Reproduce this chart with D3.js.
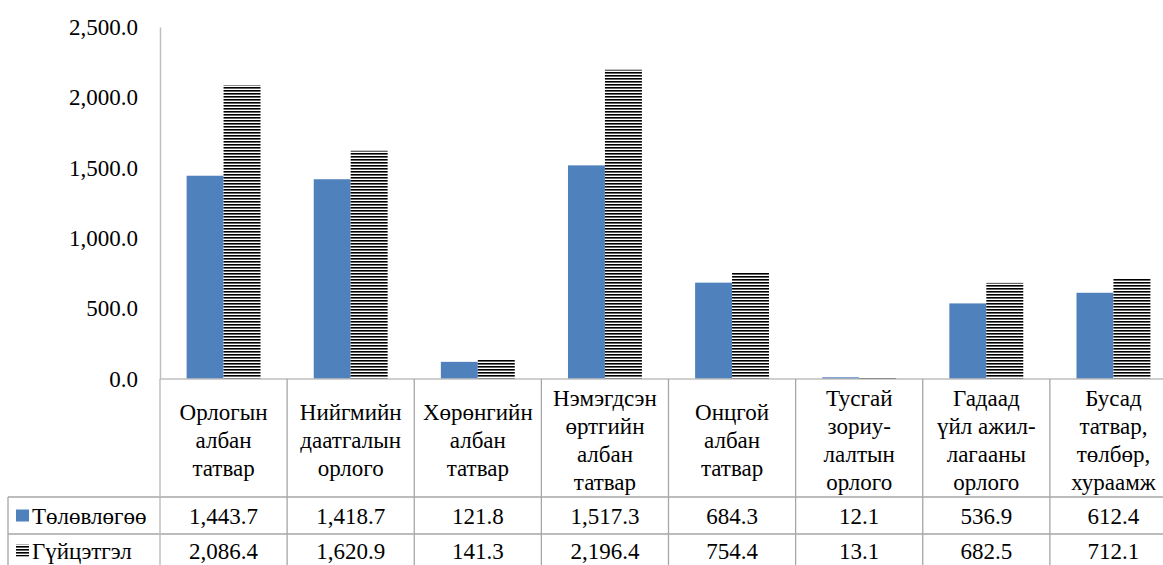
<!DOCTYPE html>
<html>
<head>
<meta charset="utf-8">
<script src="https://cdn.jsdelivr.net/npm/d3@7"></script>
<style>
  body { margin: 0; background: #fff; }
  svg text { font-family: "Liberation Serif", "Tinos", "DejaVu Serif", "Times New Roman", Times, serif; fill: #000; }
</style>
</head>
<body>
<div id="chart"></div>
<script>
// Categories (line breaks as in the picture)
const categories = [
    "Орлогын\nалбан\nтатвар",
    "Нийгмийн\nдаатгалын\nорлого",
    "Хөрөнгийн\nалбан\nтатвар",
    "Нэмэгдсэн\nөртгийн\nалбан\nтатвар",
    "Онцгой\nалбан\nтатвар",
    "Тусгай\nзориу-\nлалтын\nорлого",
    "Гадаад\nүйл ажил-\nлагааны\nорлого",
    "Бусад\nтатвар,\nтөлбөр,\nхураамж"
];
const seriesNames = ["Төлөвлөгөө", "Гүйцэтгэл"];
const planValues = [1443.7, 1418.7, 121.8, 1517.3, 684.3, 12.1, 536.9, 612.4];
const actualValues = [2086.4, 1620.9, 141.3, 2196.4, 754.4, 13.1, 682.5, 712.1];
const yTicks = [0, 500, 1000, 1500, 2000, 2500];

const width = 1163, height = 565;
const plotLeft = 160, plotRight = 1177, plotTop = 27, plotBottom = 379;
const headerBottom = 497, row1Bottom = 534, row2Bottom = 571, legendLeft = 8;
const blue = "#4f81bd", gridGray = "#a6a6a6";
const serif = '"Liberation Serif", "Tinos", "DejaVu Serif", "Times New Roman", Times, serif';

const svg = d3.select("#chart").append("svg")
    .attr("width", width)
    .attr("height", height)
    .attr("font-family", serif);

// Pattern for the "Гүйцэтгэл" series: horizontal black stripes
const defs = svg.append("defs");
const pat = defs.append("pattern")
    .attr("id", "stripes")
    .attr("patternUnits", "userSpaceOnUse")
    .attr("width", 8)
    .attr("height", 3);
pat.append("rect").attr("width", 8).attr("height", 3).attr("fill", "#fff");
pat.append("rect").attr("width", 8).attr("height", 1.6).attr("fill", "#000");

const x = d3.scaleBand()
    .domain(d3.range(categories.length))
    .range([plotLeft, plotRight])
    .padding(0);

const xs = d3.scaleBand()
    .domain([0, 1])
    .range([0, x.bandwidth()])
    .paddingInner(0)
    .paddingOuter(0.72);

const y = d3.scaleLinear()
    .domain([0, 2500])
    .range([plotBottom, plotTop]);

// Y axis
const yAxis = svg.append("g")
    .attr("transform", `translate(${plotLeft},0)`)
    .call(d3.axisLeft(y).tickValues(yTicks).tickFormat(d3.format(",.1f")).tickSize(0).tickPadding(22));
yAxis.attr("font-family", serif).attr("font-size", 23);
yAxis.select(".domain").attr("stroke", "#bfbfbf").attr("stroke-width", 1.5);
yAxis.selectAll("text").attr("fill", "#000");

// Bars
const seriesData = [planValues, actualValues];
const fills = [blue, "url(#stripes)"];
seriesData.forEach((vals, si) => {
    svg.append("g").selectAll("rect")
        .data(vals)
        .enter()
        .append("rect")
        .attr("x", (d, i) => x(i) + xs(si))
        .attr("width", xs.bandwidth())
        .attr("y", d => y(d))
        .attr("height", d => y(0) - y(d))
        .attr("fill", fills[si]);
});

// Data table lines
const grid = svg.append("g")
    .attr("stroke", gridGray)
    .attr("stroke-width", 1.3);

grid.append("line")
    .attr("x1", plotLeft).attr("x2", plotRight)
    .attr("y1", plotBottom).attr("y2", plotBottom)
    .attr("stroke", "#bfbfbf").attr("stroke-width", 1.5);

[headerBottom, row1Bottom, row2Bottom].forEach(yy => {
    grid.append("line")
        .attr("x1", legendLeft).attr("x2", plotRight)
        .attr("y1", yy).attr("y2", yy);
});
grid.append("line")
    .attr("x1", legendLeft).attr("x2", legendLeft)
    .attr("y1", headerBottom).attr("y2", row2Bottom);
d3.range(1, categories.length + 1).forEach(i => {
    const xx = i < categories.length ? x(i) : plotRight;
    grid.append("line")
        .attr("x1", xx).attr("x2", xx)
        .attr("y1", plotBottom).attr("y2", row2Bottom);
});
grid.append("line")
    .attr("x1", plotLeft).attr("x2", plotLeft)
    .attr("y1", plotBottom).attr("y2", row2Bottom)
    .attr("stroke", "#bfbfbf").attr("stroke-width", 1.5);

// Category labels
const lineH = 28;
const catG = svg.append("g");
categories.forEach((c, i) => {
    const lines = c.split("\n");
    const cy = (plotBottom + headerBottom) / 2 + 2;
    const t = catG.append("text")
        .attr("text-anchor", "middle")
        .attr("font-size", 23);
    lines.forEach((ln, li) => {
        t.append("tspan")
            .attr("x", x(i) + x.bandwidth() / 2)
            .attr("y", cy + (li - (lines.length - 1) / 2) * lineH)
            .attr("dy", "0.35em")
            .text(ln);
    });
});

// Table values
const fmt = d3.format(",.1f");
const rowCenters = [(headerBottom + row1Bottom) / 2, (row1Bottom + row2Bottom) / 2 - 2];
seriesData.forEach((vals, si) => {
    svg.append("g").selectAll("text")
        .data(vals)
        .enter()
        .append("text")
        .attr("x", (d, i) => x(i) + x.bandwidth() / 2)
        .attr("y", rowCenters[si])
        .attr("dy", "0.35em")
        .attr("text-anchor", "middle")
        .attr("font-size", 23)
        .text(d => fmt(d));
});

// Legend keys in the table
seriesNames.forEach((name, si) => {
    const cy = rowCenters[si];
    svg.append("rect")
        .attr("x", 16)
        .attr("y", cy - 6)
        .attr("width", 13)
        .attr("height", 12)
        .attr("fill", fills[si]);
    svg.append("text")
        .attr("x", 32)
        .attr("y", cy)
        .attr("dy", "0.35em")
        .attr("font-size", 23)
        .text(name);
});
</script>
</body>
</html>
